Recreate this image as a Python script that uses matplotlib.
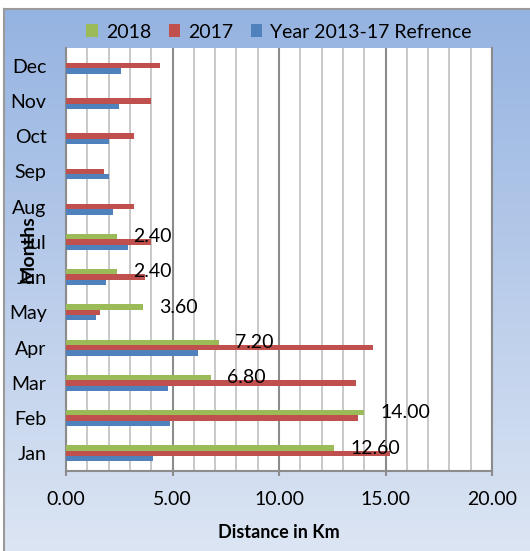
import numpy as np
import matplotlib
matplotlib.use("Agg")
import matplotlib.pyplot as plt
from matplotlib.ticker import MultipleLocator, FormatStrFormatter

months = ["Jan", "Feb", "Mar", "Apr", "May", "Jun", "Jul", "Aug", "Sep", "Oct", "Nov", "Dec"]
y2018 = [12.6, 14.0, 6.8, 7.2, 3.6, 2.4, 2.4, np.nan, np.nan, np.nan, np.nan, np.nan]
y2017 = [15.2, 13.7, 13.6, 14.4, 1.6, 3.7, 4.0, 3.2, 1.8, 3.2, 4.0, 4.4]
yref = [4.1, 4.9, 4.8, 6.2, 1.4, 1.9, 2.9, 2.2, 2.0, 2.0, 2.5, 2.6]
labels2018 = ["12.60", "14.00", "6.80", "7.20", "3.60", "2.40", "2.40", "", "", "", "", ""]

c2018, c2017, cref = "#9BBB59", "#C0504D", "#4F81BD"

W, H = 530, 551
fig = plt.figure(figsize=(W / 100, H / 100), dpi=100)
fig.patch.set_facecolor("white")

# gradient background panel
bg = fig.add_axes([4 / W, 0, 1 - 4 / W, 1 - 9 / H])
grad = np.linspace(0, 1, 256).reshape(-1, 1)
top = np.array([149, 179, 225]) / 255
bot = np.array([220, 229, 243]) / 255
img = top[None, None, :] * (1 - grad[:, :, None]) + bot[None, None, :] * grad[:, :, None]
bg.imshow(img, aspect="auto", extent=[0, 1, 0, 1], origin="upper")
bg.set_xlim(0, 1); bg.set_ylim(0, 1)
bg.set_xticks([]); bg.set_yticks([])
for s in ["right", "bottom"]:
    bg.spines[s].set_visible(False)
for s in ["left", "top"]:
    bg.spines[s].set_color("#9a9a9a")
    bg.spines[s].set_linewidth(1.5)

font = "Lato"
fs = 14

ax = fig.add_axes([66 / W, 1 - 471 / H, (492 - 66) / W, (471 - 48) / H])
ax.set_facecolor("white")
y = np.arange(len(months))
h = 0.151
ax.barh(y + h, y2018, height=h, color=c2018, label="2018", zorder=3)
ax.barh(y, y2017, height=h, color=c2017, label="2017", zorder=3)
ax.barh(y - h, yref, height=h, color=cref, label="Year 2013-17 Refrence", zorder=3)

for i, (v, t) in enumerate(zip(y2018, labels2018)):
    if t:
        ax.annotate(t, (v, i + h), xytext=(11.5, 0), textcoords="offset points",
                    ha="left", va="center", fontsize=fs, family=font, zorder=4)

ax.set_xlim(0, 20)
ax.set_ylim(-0.5, 11.5)
ax.xaxis.set_major_locator(MultipleLocator(5))
ax.xaxis.set_minor_locator(MultipleLocator(1))
ax.xaxis.set_major_formatter(FormatStrFormatter("%.2f"))
ax.grid(which="minor", axis="x", color="#c4c4c4", linewidth=1.3, zorder=1)
ax.grid(which="major", axis="x", color="#8c8c8c", linewidth=1.5, zorder=2)
ax.set_axisbelow(True)
ax.set_yticks(y)
ax.set_yticklabels(months, family=font, fontsize=fs)
for lab in ax.get_xticklabels():
    lab.set_family(font); lab.set_fontsize(fs)
ax.tick_params(axis="y", length=0, pad=14)
ax.tick_params(axis="x", which="major", length=3.6, color="#8c8c8c", width=1.5, pad=11)
ax.tick_params(axis="x", which="minor", length=0)
for s in ["left", "bottom", "right"]:
    ax.spines[s].set_color("#8c8c8c")
    ax.spines[s].set_linewidth(1.5)
ax.spines["top"].set_visible(False)

ax.set_xlabel("Distance in Km", family=font, fontsize=13, fontweight="bold", labelpad=11)
ax.set_ylabel("Months", family=font, fontsize=14, fontweight="bold", va="center")
ax.yaxis.set_label_coords(-0.089, 0.525)

leg = fig.legend(loc="center", bbox_to_anchor=(279 / W, 1 - 32 / H), ncol=3, frameon=False,
                 prop={"family": font, "size": fs}, handlelength=0.6, handleheight=0.6,
                 handletextpad=0.4, columnspacing=0.9)

fig.savefig("out.png", dpi=100)
